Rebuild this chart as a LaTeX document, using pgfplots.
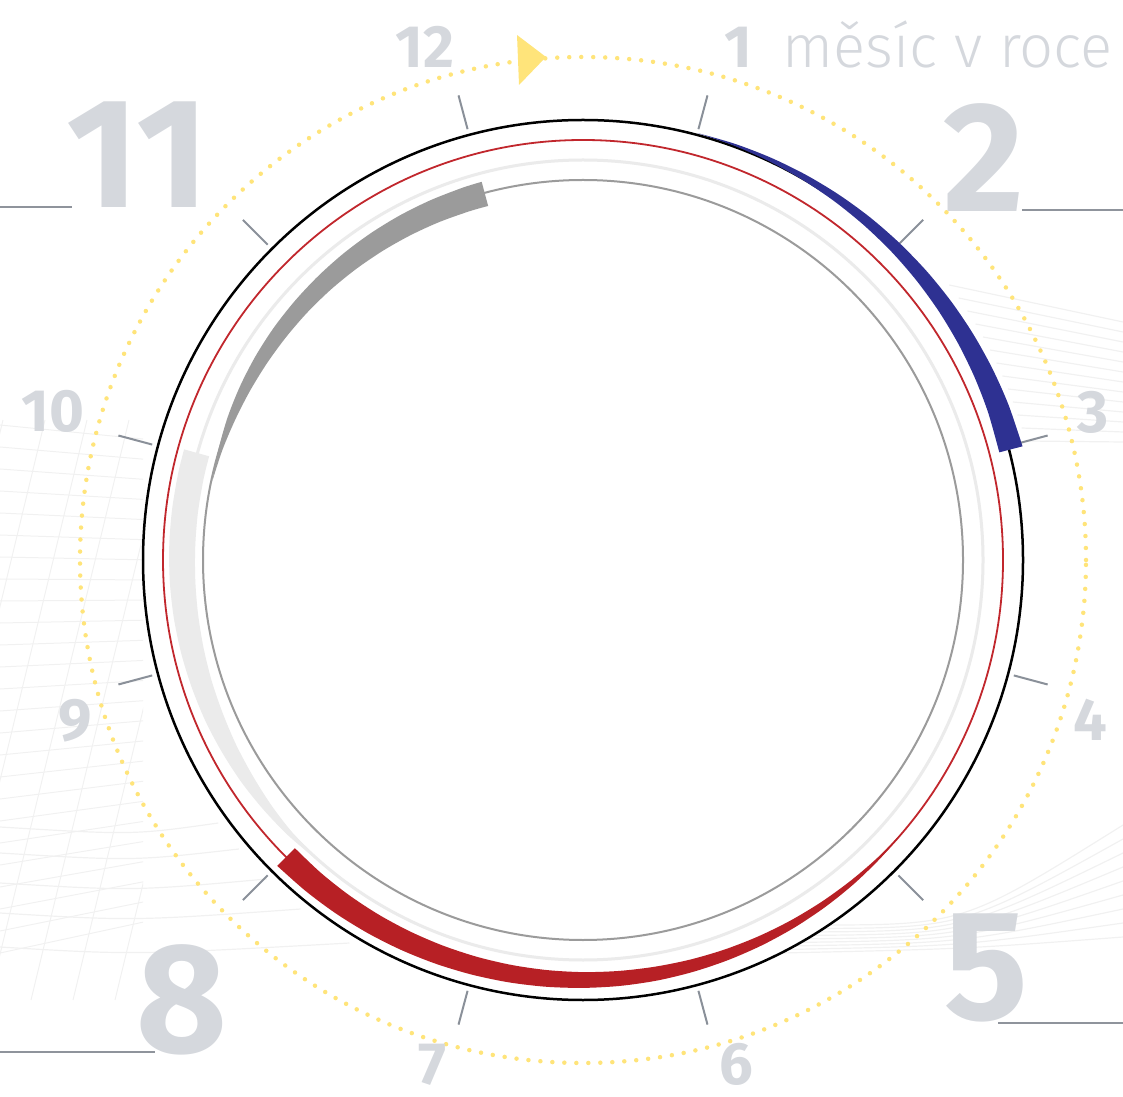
\documentclass[border=0pt]{standalone}
\usepackage{pgfplots}
\pgfplotsset{compat=1.18}
\usepgfplotslibrary{fillbetween}
\usepackage{fontspec}
\setmainfont{Fira Sans}
\newfontfamily\lightfont{Fira Sans Light}
\definecolor{numgrey}{HTML}{D5D8DD}
\definecolor{lineg}{HTML}{8F949C}
\definecolor{tickg}{HTML}{8A9099}
\definecolor{yel}{HTML}{FFE47A}
\definecolor{bandblue}{HTML}{2E3192}
\definecolor{bandred}{HTML}{B72025}
\definecolor{redline}{HTML}{C1272D}
\definecolor{lgrey}{HTML}{EBEBEB}
\definecolor{mgrey}{HTML}{9B9B9B}
\definecolor{mesh}{HTML}{F1F1F1}
\begin{document}
\begin{tikzpicture}
\begin{axis}[x=0.1mm, y=0.1mm, xmin=-583, xmax=540, ymin=-536, ymax=560,
  hide axis, clip=false]
\coordinate (sw) at (axis cs:-583,-536);
\coordinate (ne) at (axis cs:540,560);
% faint background mesh (decoration)
\pgfplotsinvokeforeach{0,...,12}{
  \draw[mesh, line width=0.12mm] (axis cs:{sqrt(458^2-(275-13*#1)^2)},{275-13*#1}) -- (axis cs:540,{238-10*#1});
}
\pgfplotsinvokeforeach{0,...,8}{
  \draw[mesh, line width=0.12mm] (axis cs:{230-4*#1},{-365-3.5*#1}) .. controls (axis cs:380,{-365-3*#1}) .. (axis cs:540,{-265-14*#1});
}
\pgfplotsinvokeforeach{267,293,323,353,387}{
  \draw[mesh, line width=0.12mm] (axis cs:-583,{-#1}) .. controls (axis cs:-450,{-#1-8}) .. (axis cs:{-sqrt(452^2-#1^2)},{-#1+4});
}
\begin{scope}
\clip (axis cs:-583,-440) rectangle (axis cs:-440,140);
\pgfplotsinvokeforeach{0,...,24}{
  \draw[mesh, line width=0.1mm] (axis cs:-583,{135-22*#1}) -- (axis cs:-430,{120-20*#1});
}
\pgfplotsinvokeforeach{0,...,8}{
  \draw[mesh, line width=0.1mm] (axis cs:{-720+42*#1},-440) -- (axis cs:{-580+42*#1},140);
}
\end{scope}
% yellow dotted ring and arrow
\draw[yel, line width=0.45mm, line cap=round, dash pattern=on 0pt off 1.2mm] (axis cs:0,0) circle[radius=50.3mm];
\fill[yel] (axis cs:-66,525) -- (axis cs:-64,475) -- (axis cs:-37,503) -- cycle;
% month labels
\node[font=\bfseries\fontsize{17}{17}\selectfont, text=numgrey, anchor=base, inner sep=0] at (axis cs:-158,492) {12};
\node[font=\bfseries\fontsize{17}{17}\selectfont, text=numgrey, anchor=base, inner sep=0] at (axis cs:155,492) {1};
\node[font=\lightfont\fontsize{17}{17}\selectfont, text=numgrey, anchor=base west, inner sep=0] at (axis cs:199,492) {měsíc v roce};
\node[font=\bfseries\fontsize{17}{17}\selectfont, text=numgrey, anchor=base, inner sep=0] at (axis cs:510,127) {3};
\node[font=\bfseries\fontsize{17}{17}\selectfont, text=numgrey, anchor=base, inner sep=0] at (axis cs:507,-180) {4};
\node[font=\bfseries\fontsize{17}{17}\selectfont, text=numgrey, anchor=base, inner sep=0] at (axis cs:153,-524) {6};
\node[font=\bfseries\fontsize{17}{17}\selectfont, text=numgrey, anchor=base, inner sep=0] at (axis cs:-151,-524) {7};
\node[font=\bfseries\fontsize{17}{17}\selectfont, text=numgrey, anchor=base, inner sep=0] at (axis cs:-508,-180) {9};
\node[font=\bfseries\fontsize{17}{17}\selectfont, text=numgrey, anchor=base, inner sep=0] at (axis cs:-530,128) {10};
% big labels
\node[font=\bfseries\fontsize{44.5}{44.5}\selectfont, text=numgrey, anchor=base, inner sep=0] at (axis cs:-445,352) {11};
\node[font=\bfseries\fontsize{44.5}{44.5}\selectfont, text=numgrey, anchor=base, inner sep=0] at (axis cs:401,348) {2};
\node[font=\bfseries\fontsize{44.5}{44.5}\selectfont, text=numgrey, anchor=base, inner sep=0] at (axis cs:403,-459) {5};
\node[font=\bfseries\fontsize{44.5}{44.5}\selectfont, text=numgrey, anchor=base, inner sep=0] at (axis cs:-401,-492) {8};
\draw[lineg, line width=0.2mm] (axis cs:-583,353) -- (axis cs:-511,353);
\draw[lineg, line width=0.2mm] (axis cs:439,350) -- (axis cs:540,350);
\draw[lineg, line width=0.2mm] (axis cs:415,-463) -- (axis cs:540,-463);
\draw[lineg, line width=0.2mm] (axis cs:-583,-492) -- (axis cs:-428,-492);
% ticks at month positions
\pgfplotsinvokeforeach{75,45,15,-15,-45,-75,-105,-135,-165,-195,-225,-255}{
  \addplot[tickg, line width=0.2mm, data cs=polar, mark=none, forget plot] coordinates {(#1,446) (#1,481)};
}
% rings
\fill[white] (axis cs:0,0) circle[radius=44mm];
\draw[mgrey, line width=0.2mm] (axis cs:0,0) circle[radius=38mm];
\draw[lgrey, line width=0.3mm] (axis cs:0,0) circle[radius=40mm];
\draw[redline, line width=0.18mm] (axis cs:0,0) circle[radius=42mm];
\draw[black, line width=0.25mm] (axis cs:0,0) circle[radius=44mm];
% blue band (months 1 -> 3)
\addplot[draw=none, smooth, name path=bo, data cs=polar, mark=none, forget plot] coordinates {
 (75,442) (70,443.0) (65,444.0) (60,445.0) (55,446.0) (50,447.0) (45,447.9) (40,448.9)
 (35,449.9) (30,450.9) (25,451.9) (20,452.9) (14.5,454.0)};
\addplot[draw=none, smooth, name path=bi, data cs=polar, mark=none, forget plot] coordinates {
 (75,442) (70,441.0) (65,440.0) (60,439.0) (55,438.0) (50,437.0) (45,436.1) (40,435.1)
 (35,434.1) (30,433.1) (25,432.1) (20,431.1) (14.5,430.0)};
\addplot[fill=bandblue, draw=none, forget plot] fill between[of=bo and bi, on layer=main];
% red band
\addplot[draw=none, smooth, name path=ro, data cs=polar, mark=none, forget plot] coordinates {
 (-40,420) (-45,421.15) (-50,422.25) (-55,423.15) (-60,424) (-65,424.8) (-70,425.55)
 (-75,426.3) (-80,427) (-85,427.5) (-90,427.9) (-95,428.35) (-100,428.8) (-105,429.25)
 (-110,429.75) (-115,430.25) (-120,430.75) (-125,431.3) (-130,431.85) (-135,432.5)};
\addplot[draw=none, smooth, name path=ri, data cs=polar, mark=none, forget plot] coordinates {
 (-40,420) (-45,418.85) (-50,417.75) (-55,416.85) (-60,416) (-65,415.2) (-70,414.45)
 (-75,413.7) (-80,413) (-85,412.5) (-90,412.1) (-95,411.65) (-100,411.2) (-105,410.75)
 (-110,410.25) (-115,409.75) (-120,409.25) (-125,408.7) (-130,408.15) (-135,407.5)};
\addplot[fill=bandred, draw=none, forget plot] fill between[of=ro and ri, on layer=main];
% light grey band
\addplot[draw=none, smooth, name path=lo, data cs=polar, mark=none, forget plot] coordinates {
 (-132,401) (-137,403.5) (-142,405.5) (-147,407.5) (-152,409) (-157,410.5) (-162,411.5)
 (-167,412.5) (-172,413.25) (-177,413.75) (-182,414) (-187,414) (-192,414) (-195.5,414)};
\addplot[draw=none, smooth, name path=li, data cs=polar, mark=none, forget plot] coordinates {
 (-132,401) (-137,398.5) (-142,396.5) (-147,394.5) (-152,393) (-157,391.5) (-162,390.5)
 (-167,389.5) (-172,388.75) (-177,388.25) (-182,388) (-187,388) (-192,388) (-195.5,388)};
\addplot[fill=lgrey, draw=none, forget plot] fill between[of=lo and li, on layer=main];
% grey band
\addplot[draw=none, smooth, name path=go, data cs=polar, mark=none, forget plot] coordinates {
 (-192,379) (-197,381) (-202,383) (-207,384.5) (-212,385.75) (-217,386.75) (-222,387.5)
 (-227,388.25) (-232,389) (-237,389.65) (-242,390.25) (-247,390.75) (-252,391.25) (-255,391.5)};
\addplot[draw=none, smooth, name path=gi, data cs=polar, mark=none, forget plot] coordinates {
 (-192,379) (-197,377) (-202,375) (-207,373.5) (-212,372.25) (-217,371.25) (-222,370.5)
 (-227,369.75) (-232,369) (-237,368.35) (-242,367.75) (-247,367.25) (-252,366.75) (-255,366.5)};
\addplot[fill=mgrey, draw=none, forget plot] fill between[of=go and gi, on layer=main];
\end{axis}
\pgfresetboundingbox
\path[use as bounding box] (sw) rectangle (ne);
\end{tikzpicture}
\end{document}
